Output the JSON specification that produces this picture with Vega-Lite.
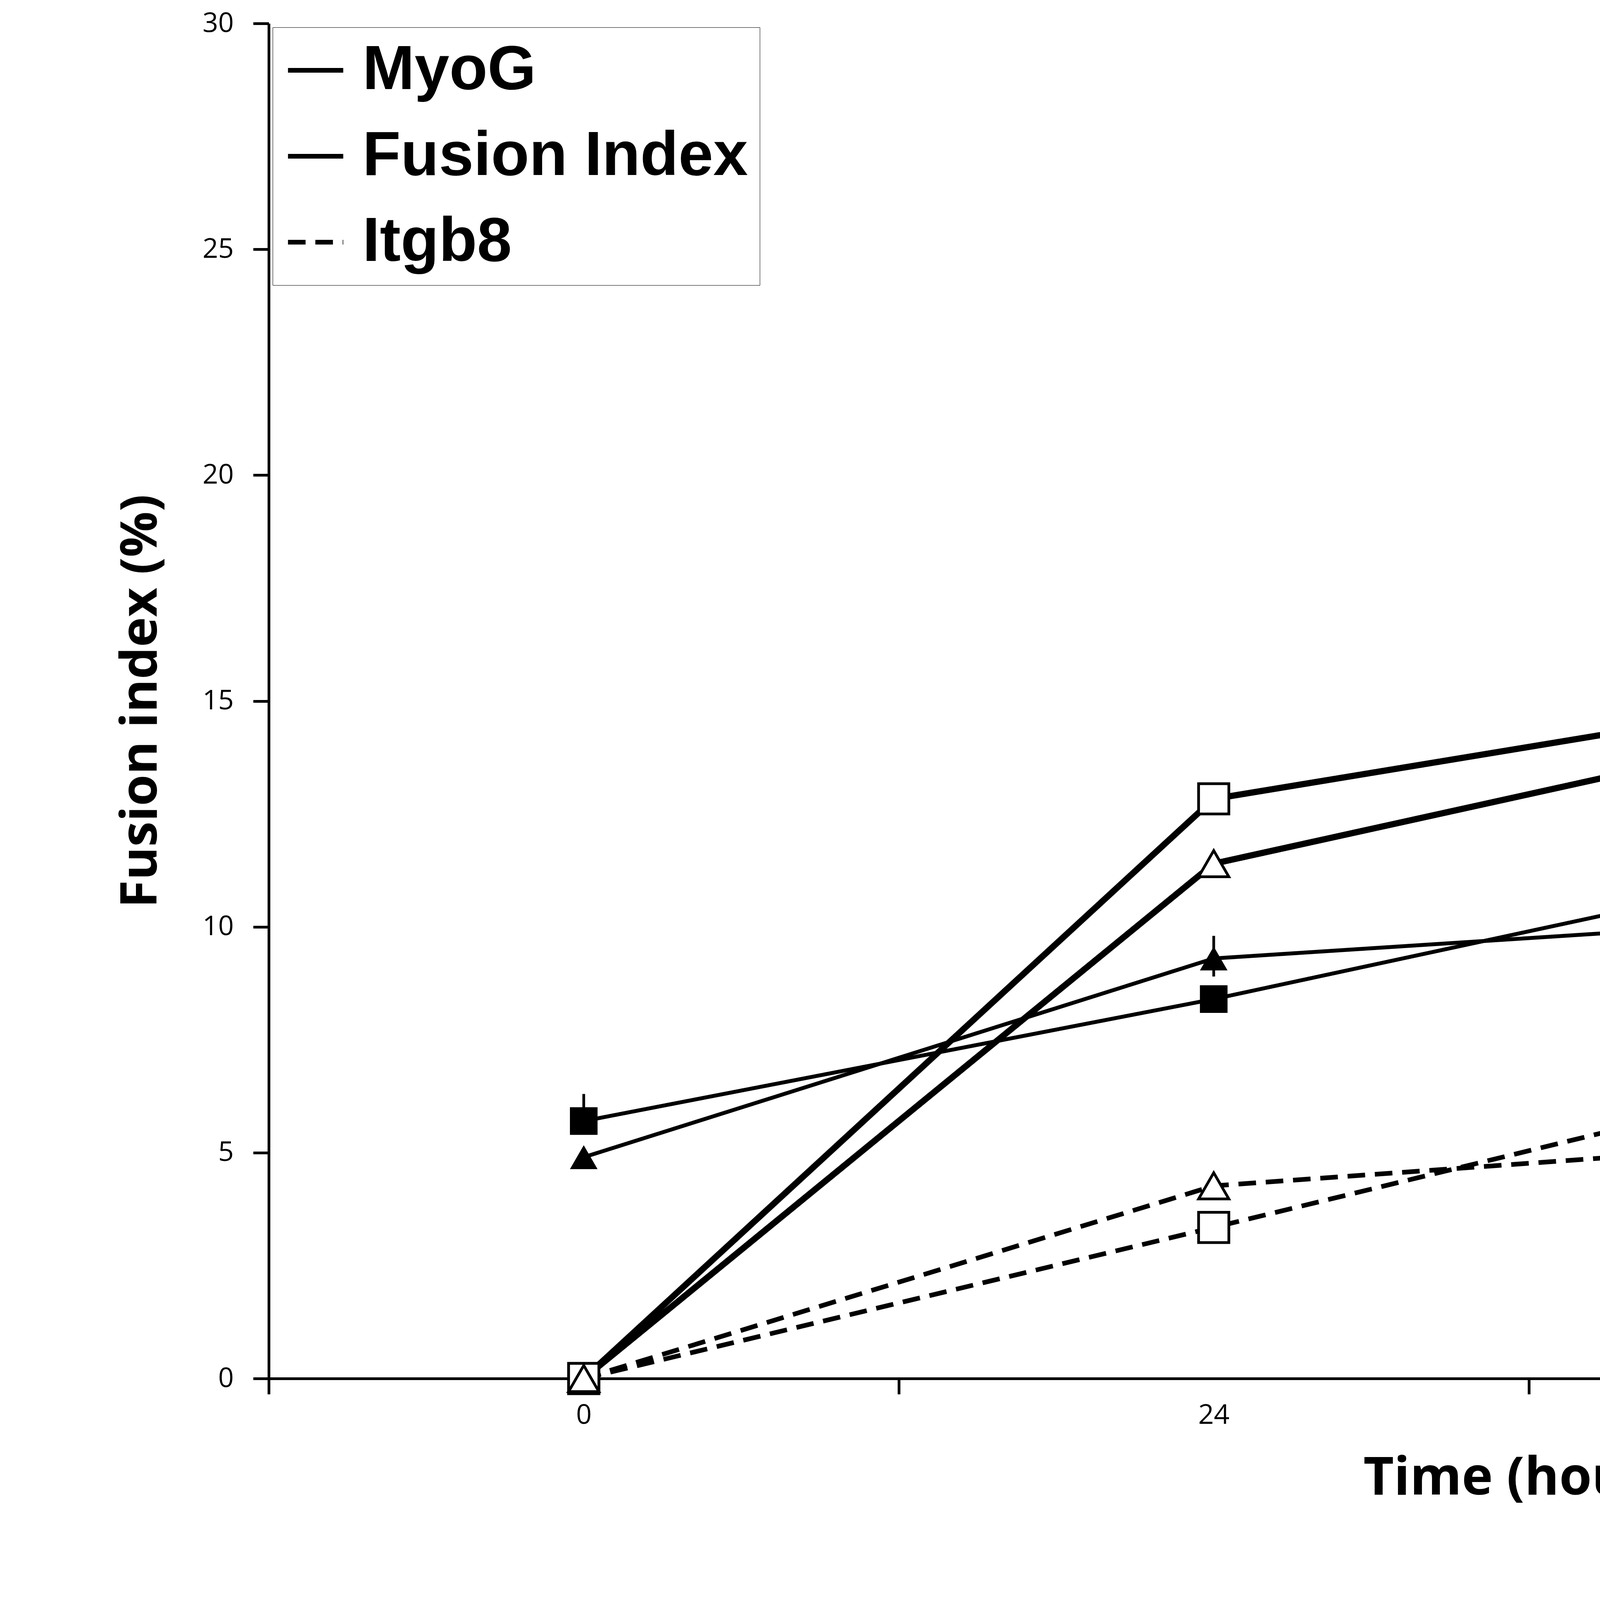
{
  "$schema": "https://vega.github.io/schema/vega-lite/v6.json",
  "width": 6451,
  "height": 3469,
  "autosize": "none",
  "padding": {"left": 688, "top": 60, "right": 732, "bottom": 590},
  "background": "white",
  "config": {
    "view": {"stroke": null},
    "axis": {"grid": false, "domainColor": "black", "domainWidth": 7, "tickColor": "black", "tickWidth": 7, "tickSize": 40, "labelColor": "black", "titleColor": "black", "labelFont": "Open Sans", "titleFont": "Open Sans"}
  },
  "datasets": {
    "fusion": [
      {"t": 0, "v": 5.7, "lo": 5.4, "hi": 6.3, "m": "square", "legend": "Fusion Index"},
      {"t": 24, "v": 8.4, "lo": 8.1, "hi": 8.7, "m": "square", "legend": "Fusion Index"},
      {"t": 48, "v": 11.4, "lo": 10.8, "hi": 12.1, "m": "square", "legend": "Fusion Index"},
      {"t": 72, "v": 15.6, "lo": 15.3, "hi": 15.9, "m": "square", "legend": "Fusion Index"},
      {"t": 0, "v": 4.9, "lo": 4.7, "hi": 5.1, "m": "triangle", "legend": "Fusion Index"},
      {"t": 24, "v": 9.3, "lo": 8.9, "hi": 9.8, "m": "triangle", "legend": "Fusion Index"},
      {"t": 48, "v": 10.2, "lo": 10.0, "hi": 10.5, "m": "triangle", "legend": "Fusion Index"},
      {"t": 72, "v": 16.2, "lo": 16.0, "hi": 16.5, "m": "triangle", "legend": "Fusion Index"}
    ],
    "mrna": [
      {"t": 0, "v": 1, "m": "square", "legend": "MyoG"},
      {"t": 24, "v": 19.2, "m": "square", "legend": "MyoG"},
      {"t": 48, "v": 32.6, "m": "square", "legend": "MyoG"},
      {"t": 72, "v": 113, "m": "square", "legend": "MyoG"},
      {"t": 0, "v": 1, "m": "triangle", "legend": "MyoG"},
      {"t": 24, "v": 13.8, "m": "triangle", "legend": "MyoG"},
      {"t": 48, "v": 28, "m": "triangle", "legend": "MyoG"},
      {"t": 72, "v": 49.6, "m": "triangle", "legend": "MyoG"},
      {"t": 0, "v": 1, "m": "square", "legend": "Itgb8"},
      {"t": 24, "v": 2.16, "m": "square", "legend": "Itgb8"},
      {"t": 48, "v": 4.72, "m": "square", "legend": "Itgb8"},
      {"t": 72, "v": 6.0, "m": "square", "legend": "Itgb8"},
      {"t": 0, "v": 1, "m": "triangle", "legend": "Itgb8"},
      {"t": 24, "v": 2.67, "m": "triangle", "legend": "Itgb8"},
      {"t": 48, "v": 3.36, "m": "triangle", "legend": "Itgb8"},
      {"t": 72, "v": 3.75, "m": "triangle", "legend": "Itgb8"}
    ]
  },
  "encoding": {
    "x": {
      "field": "t", "type": "quantitative",
      "scale": {"domain": [-12, 84], "nice": false, "zero": false},
      "axis": {
        "values": [-12, 0, 12, 24, 36, 48, 60, 72, 84],
        "labelExpr": "datum.value % 24 == 0 ? datum.label : ''",
        "tickOpacity": {"expr": "datum.value % 24 == 0 ? 0 : 1"},
        "title": "Time (hours)", "titleFontSize": 135, "titleFontWeight": "bold", "titlePadding": 60,
        "labelFontSize": 70, "labelPadding": 20
      }
    }
  },
  "layer": [
    {
      "data": {"name": "fusion"},
      "encoding": {
        "y": {
          "field": "v", "type": "quantitative",
          "scale": {"domain": [0, 30], "nice": false},
          "axis": {"orient": "left", "values": [0, 5, 10, 15, 20, 25, 30], "title": "Fusion index (%)", "titleFontSize": 130, "titleFontWeight": "bold", "titlePadding": 90, "labelFontSize": 70, "labelPadding": 50}
        }
      },
      "layer": [
        {"mark": {"type": "rule", "color": "black", "strokeWidth": 7}, "encoding": {"y": {"field": "lo", "type": "quantitative"}, "y2": {"field": "hi"}}},
        {"mark": {"type": "line", "color": "black", "strokeWidth": 10}, "encoding": {"detail": {"field": "m"}, "strokeDash": {"field": "legend", "type": "nominal"}}},
        {"mark": {"type": "point", "filled": true, "color": "black", "size": 5000, "opacity": 1}, "encoding": {"shape": {"field": "m", "type": "nominal", "scale": {"domain": ["square", "triangle"], "range": ["square", "triangle-up"]}, "legend": null}}}
      ]
    },
    {
      "data": {"name": "mrna"},
      "encoding": {
        "y": {
          "field": "v", "type": "quantitative",
          "scale": {"type": "log", "domain": [1, 1000], "nice": false},
          "axis": {"orient": "right", "values": [1, 10, 100, 1000], "format": "d", "title": "mRNA relative quantity", "titleAngle": 270, "titleFont": "Liberation Sans", "titleFontSize": 100, "titleFontWeight": "bold", "titlePadding": 120, "labelFontSize": 70, "labelPadding": 40}
        }
      },
      "layer": [
        {"mark": {"type": "line", "color": "black"}, "encoding": {
          "detail": {"field": "m"},
          "strokeDash": {"field": "legend", "type": "nominal", "scale": {"domain": ["MyoG", "Fusion Index", "Itgb8"], "range": [[1, 0], [1, 0], [45, 25]]},
            "legend": {"orient": "top-left", "title": null, "offset": 10, "strokeColor": "black", "fillColor": "white", "padding": 30, "labelFont": "Liberation Sans", "labelFontSize": 160, "labelFontWeight": "bold", "labelColor": "black", "labelLimit": 2000, "symbolSize": 20000, "symbolStrokeWidth": 12, "symbolStrokeColor": "black", "rowPadding": 60, "labelOffset": 40}},
          "strokeWidth": {"field": "legend", "type": "nominal", "scale": {"domain": ["MyoG", "Itgb8"], "range": [16, 12]}, "legend": null}
        }},
        {"mark": {"type": "point", "filled": true, "fill": "white", "stroke": "black", "strokeWidth": 7, "size": 6000, "opacity": 1}, "encoding": {"shape": {"field": "m", "type": "nominal", "scale": {"domain": ["square", "triangle"], "range": ["square", "triangle-up"]}, "legend": null}}}
      ]
    }
  ],
  "resolve": {"scale": {"y": "independent", "strokeWidth": "independent"}}
}
